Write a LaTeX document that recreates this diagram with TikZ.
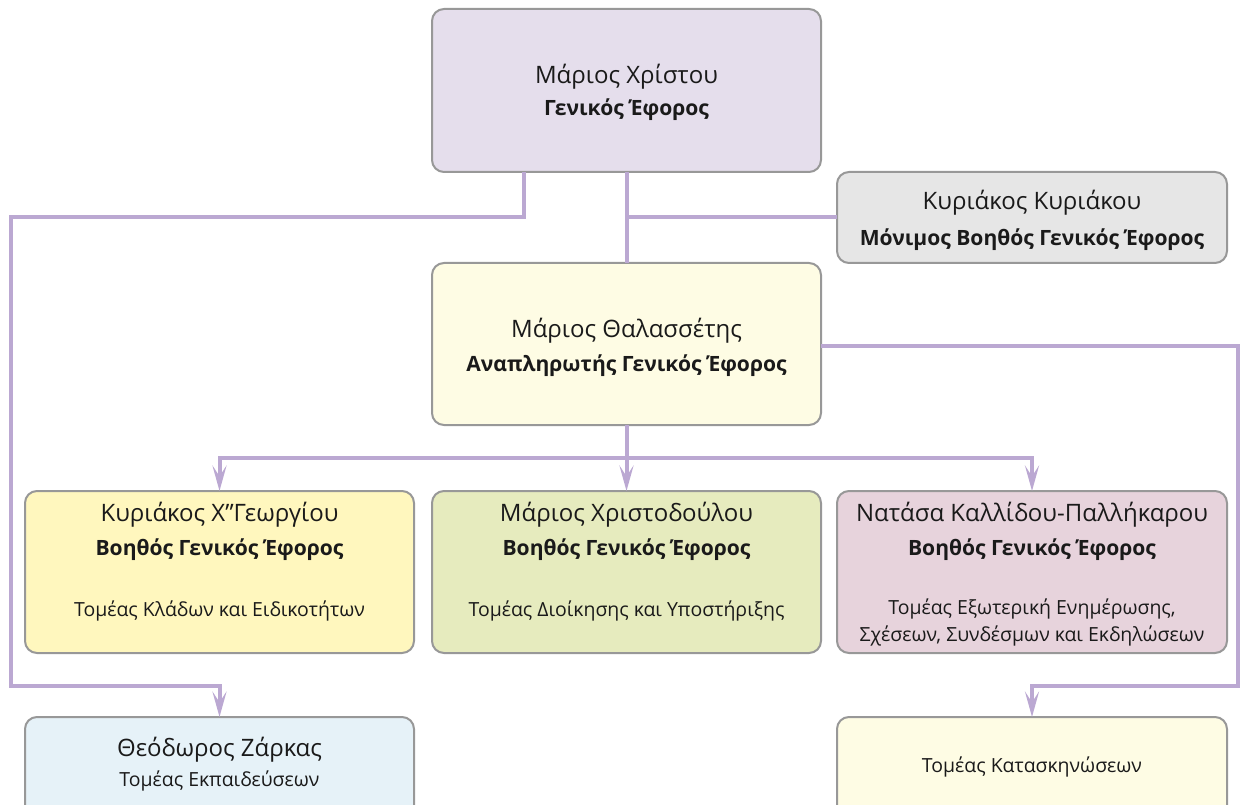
\documentclass[tikz,border=0pt]{standalone}
\usepackage{fontspec}
\setmainfont{Open Sans}
\usetikzlibrary{arrows.meta}
\definecolor{conncol}{RGB}{187,168,210}
\definecolor{bordcol}{RGB}{152,152,152}
\definecolor{txtcol}{RGB}{26,26,26}
\definecolor{fTop}{RGB}{229,222,236}
\definecolor{fGray}{RGB}{230,230,230}
\definecolor{fCream}{RGB}{254,252,228}
\definecolor{fYellow}{RGB}{255,247,190}
\definecolor{fGreen}{RGB}{230,235,190}
\definecolor{fPink}{RGB}{231,211,220}
\definecolor{fBlue}{RGB}{230,242,248}
\tikzset{
  box/.style={draw=bordcol, line width=1.5pt, rounded corners=9pt, rectangle, inner sep=0pt, outer sep=0pt},
  conn/.style={draw=conncol, line width=3pt, line join=miter},
  arr/.style={-{Stealth[length=19pt,width=10.5pt,inset=8pt]}},
  nm/.style={anchor=base, text=txtcol, font=\fontsize{18}{21}\selectfont},
  ttl/.style={anchor=base, text=txtcol, font=\fontsize{15.8}{19}\selectfont\bfseries},
  sml/.style={anchor=base, text=txtcol, font=\fontsize{14.6}{17}\selectfont},
}
\begin{document}
\begin{tikzpicture}[x=0.75pt,y=-0.75pt]
\useasboundingbox (0,0) rectangle (1241,805);
\clip (0,0) rectangle (1241,805);
% boxes
\node[box, fill=fTop, minimum width=291.75pt, minimum height=122.25pt] (top) at (626.5,90.5) {};
\node[box, fill=fGray, minimum width=292.5pt, minimum height=68.25pt] (kyr) at (1032,217.5) {};
\node[box, fill=fCream, minimum width=291.75pt, minimum height=121.5pt] (thal) at (626.5,344) {};
\node[box, fill=fYellow, minimum width=291.75pt, minimum height=121.5pt] (b1) at (219.5,572) {};
\node[box, fill=fGreen, minimum width=291.75pt, minimum height=121.5pt] (b2) at (626.5,572) {};
\node[box, fill=fPink, minimum width=292.5pt, minimum height=121.5pt] (b3) at (1032,572) {};
\node[box, fill=fBlue, minimum width=291.75pt, minimum height=84.75pt] (zar) at (219.5,773.5) {};
\node[box, fill=fCream, minimum width=292.5pt, minimum height=84.75pt] (kat) at (1032,773.5) {};
% texts
\node[nm]  (t1a) at (626.5,84) {Μάριος Χρίστου};
\node[ttl] (t1b) at (626.5,116) {Γενικός Έφορος};
\node[nm]  (t2a) at (1032,210) {Κυριάκος Κυριάκου};
\node[ttl] (t2b) at (1032,246) {Μόνιμος Βοηθός Γενικός Έφορος};
\node[nm]  (t3a) at (626.5,338) {Μάριος Θαλασσέτης};
\node[ttl] (t3b) at (626.5,371) {Αναπληρωτής Γενικός Έφορος};
\node[nm]  (t4a) at (219.5,521) {Κυριάκος Χ”Γεωργίου};
\node[ttl] (t4b) at (219.5,555) {Βοηθός Γενικός Έφορος};
\node[sml] (t4c) at (219.5,616) {Τομέας Κλάδων και Ειδικοτήτων};
\node[nm]  (t5a) at (626.5,521) {Μάριος Χριστοδούλου};
\node[ttl] (t5b) at (626.5,555) {Βοηθός Γενικός Έφορος};
\node[sml] (t5c) at (626.5,616) {Τομέας Διοίκησης και Υποστήριξης};
\node[nm]  (t6a) at (1032,521) {Νατάσα Καλλίδου-Παλλήκαρου};
\node[ttl] (t6b) at (1032,555) {Βοηθός Γενικός Έφορος};
\node[sml] (t6c) at (1032,614) {Τομέας Εξωτερική Ενημέρωσης,};
\node[sml] (t6d) at (1032,641) {Σχέσεων, Συνδέσμων και Εκδηλώσεων};
\node[nm]  (t7a) at (219.5,756) {Θεόδωρος Ζάρκας};
\node[sml] (t7b) at (219.5,786) {Τομέας Εκπαιδεύσεων};
\node[sml] (t8a) at (1032,772) {Τομέας Κατασκηνώσεων};
% helper coordinates
\coordinate (a1) at (524,217);
\coordinate (a2) at (11,217);
\coordinate (a3) at (11,686);
\coordinate (r1) at (1238,346);
\coordinate (r2) at (1238,686);
\coordinate (hb) at (626.5,458);
% connectors
\draw[conn, arr] (top.south -| a1) -- (a1) -- (a2) -- (a3) -| (zar.north);
\draw[conn] (top.south) -- (thal.north);
\draw[conn] (top.south |- kyr.west) -- (kyr.west);
\draw[conn, arr] (thal.east |- r1) -- (r1) -- (r2) -| (kat.north);
\draw[conn] (thal.south) -- (hb);
\draw[conn, arr] (hb) -| (b1.north);
\draw[conn, arr] (hb) -| (b3.north);
\draw[conn, arr] (hb) -- (b2.north);
\end{tikzpicture}
\end{document}
